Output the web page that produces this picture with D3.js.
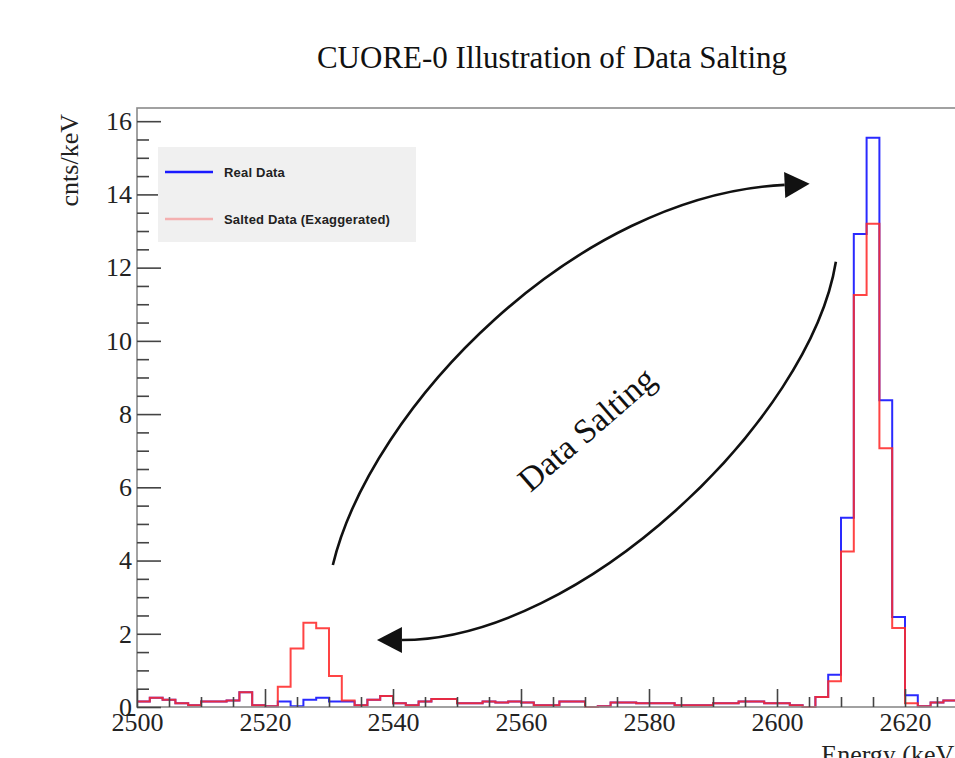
<!DOCTYPE html>
<html><head><meta charset="utf-8">
<script src="https://cdn.jsdelivr.net/npm/d3@7"></script>
<style>body{margin:0;background:#fff}</style></head>
<body><svg id="c" width="955" height="758"></svg>
<script>
// ---- data ----
const binStart = 2500, binWidth = 2;
const saltedData = [
  0.15,0.25,0.2,0.1,0.05,0.15,0.15,0.18,0.4,0.05,
  0.02,0.55,1.6,2.3,2.15,0.85,0.18,0.05,0.2,0.3,
  0.1,0.05,0.15,0.22,0.22,0.1,0.1,0.15,0.12,0.15,
  0.12,0.05,0.05,0.15,0.15,0.0,0.02,0.12,0.12,0.1,
  0.1,0.1,0.05,0.05,0.05,0.1,0.1,0.15,0.15,0.1,
  0.1,0.05,0.0,0.27,0.7,4.25,11.25,13.2,7.07,2.16,
  0.1,0.02,0.12,0.18,0.18];
const realData = [
  0.15,0.25,0.2,0.1,0.05,0.15,0.15,0.18,0.4,0.05,
  0.02,0.15,0.02,0.2,0.25,0.15,0.15,0.05,0.2,0.3,
  0.1,0.05,0.15,0.22,0.22,0.1,0.1,0.15,0.12,0.15,
  0.12,0.05,0.05,0.15,0.15,0.0,0.02,0.12,0.12,0.1,
  0.1,0.1,0.05,0.05,0.05,0.1,0.1,0.15,0.15,0.1,
  0.1,0.05,0.0,0.27,0.88,5.17,12.92,15.55,8.38,2.46,
  0.32,0.02,0.12,0.18,0.18];
const xTickValues = [2500,2520,2540,2560,2580,2600,2620];
const yTickValues = [0,2,4,6,8,10,12,14,16];
const legendLabels = ["Real Data","Salted Data (Exaggerated)"];
const titleText = "CUORE-0 Illustration of Data Salting";
// annotation arcs in data coords [keV, cnts/keV]: start, c1, c2, end
const upperArc = [[2530.6,3.88],[2536.6,8.2],[2568.6,14.0],[2601.2,14.26]];
const lowerArc = [[2609.2,12.16],[2605.2,7.84],[2569.2,1.83],[2541.4,1.83]];
const annotText = "Data Salting";
const annotPos = [2570.2, 7.6];

// ---- layout ----
const svg = d3.select("#c");
const L = 137, T = 108, B = 707, R = 969;
const x = d3.scaleLinear().domain([2500, 2630]).range([L, R]);
const y = d3.scaleLinear().domain([0, 16.36]).range([B, T]);
const serif = "'Liberation Serif','Times New Roman',serif";

svg.append("text").attr("x", 552).attr("y", 68).attr("text-anchor","middle")
  .style("font-family", serif).style("font-size","31px").attr("fill","#111").text(titleText);

// histograms
function steps(vals){
  const pts = vals.map((v,i)=>[binStart + i*binWidth, v]);
  pts.push([binStart + vals.length*binWidth, vals[vals.length-1]]);
  return pts;
}
const line = d3.line().x(d=>x(d[0])).y(d=>y(d[1])).curve(d3.curveStepAfter);
svg.append("path").attr("d", line(steps(realData))).attr("fill","none")
  .attr("stroke","#2a2aff").attr("stroke-width",2);
svg.append("path").attr("d", line(steps(saltedData))).attr("fill","none")
  .attr("stroke","#ff2a2a").attr("stroke-width",2).attr("stroke-opacity",0.88);

// frame
svg.append("rect").attr("x",L).attr("y",T).attr("width",R-L).attr("height",B-T)
  .attr("fill","none").attr("stroke","#8a8a8a").attr("stroke-width",1.6);

// axes
const xAx = svg.append("g").attr("transform",`translate(0,${B})`)
  .call(d3.axisBottom(x).tickValues(xTickValues).tickSize(-18).tickPadding(6).tickFormat(d3.format("d")));
const xMin = svg.append("g").attr("transform",`translate(0,${B})`)
  .call(d3.axisBottom(x).tickValues(d3.range(2500,2631,5).filter(v=>v%20)).tickSize(-10).tickFormat(""));
const yAx = svg.append("g").attr("transform",`translate(${L},0)`)
  .call(d3.axisLeft(y).tickValues(yTickValues).tickSize(-24).tickPadding(5));
const yMin = svg.append("g").attr("transform",`translate(${L},0)`)
  .call(d3.axisLeft(y).tickValues(d3.range(0,16.4,0.5).filter(v=>v%2)).tickSize(-12).tickFormat(""));
[xAx,xMin,yAx,yMin].forEach(g=>{
  g.select(".domain").remove();
  g.selectAll("line").attr("stroke","#444").attr("stroke-width",1.6);
  g.selectAll("text").style("font-family",serif).style("font-size","26px").attr("fill","#222");
});

svg.append("text").attr("transform","translate(78,114) rotate(-90)").attr("text-anchor","end")
  .style("font-family",serif).style("font-size","26px").attr("fill","#222").text("cnts/keV");
svg.append("text").attr("x",R-6).attr("y",763).attr("text-anchor","end")
  .style("font-family",serif).style("font-size","26px").attr("fill","#222").text("Energy (keV)");

// legend
const lg = svg.append("g");
lg.append("rect").attr("x",158).attr("y",147).attr("width",258).attr("height",95).attr("fill","#f0f0f0");
const lgColors = ["#1a1aff","#f4b0b0"];
legendLabels.forEach((t,i)=>{
  const yy = 172 + i*47;
  lg.append("line").attr("x1",165).attr("x2",213).attr("y1",yy).attr("y2",yy)
    .attr("stroke",lgColors[i]).attr("stroke-width",2.5);
  lg.append("text").attr("x",224).attr("y",yy+5)
    .style("font-family","'Liberation Sans',Arial,sans-serif").style("font-weight","bold")
    .style("font-size","13px").style("letter-spacing","0.2px").attr("fill","#222").text(t);
});

// annotation arcs
function arc(pts){
  const p = pts.map(d=>[x(d[0]), y(d[1])]);
  const pa = d3.path();
  pa.moveTo(p[0][0],p[0][1]);
  pa.bezierCurveTo(p[1][0],p[1][1],p[2][0],p[2][1],p[3][0],p[3][1]);
  svg.append("path").attr("d",pa.toString()).attr("fill","none").attr("stroke","#111").attr("stroke-width",2.6);
  const dx = p[3][0]-p[2][0], dy = p[3][1]-p[2][1], len = Math.hypot(dx,dy);
  const ux = dx/len, uy = dy/len, nx = -uy, ny = ux;
  const Lh = 25, W = 13;
  const tip = [p[3][0]+ux*Lh, p[3][1]+uy*Lh];
  const b1 = [p[3][0]+nx*W, p[3][1]+ny*W], b2 = [p[3][0]-nx*W, p[3][1]-ny*W];
  svg.append("path").attr("d",`M${tip}L${b1}L${b2}Z`).attr("fill","#111");
}
arc(upperArc);
arc(lowerArc);
svg.append("text").attr("transform",`translate(${x(annotPos[0])},${y(annotPos[1])}) rotate(-41)`)
  .attr("text-anchor","middle").attr("dy","0.35em")
  .style("font-family",serif).style("font-size","34px").attr("fill","#111").text(annotText);
</script></body></html>
